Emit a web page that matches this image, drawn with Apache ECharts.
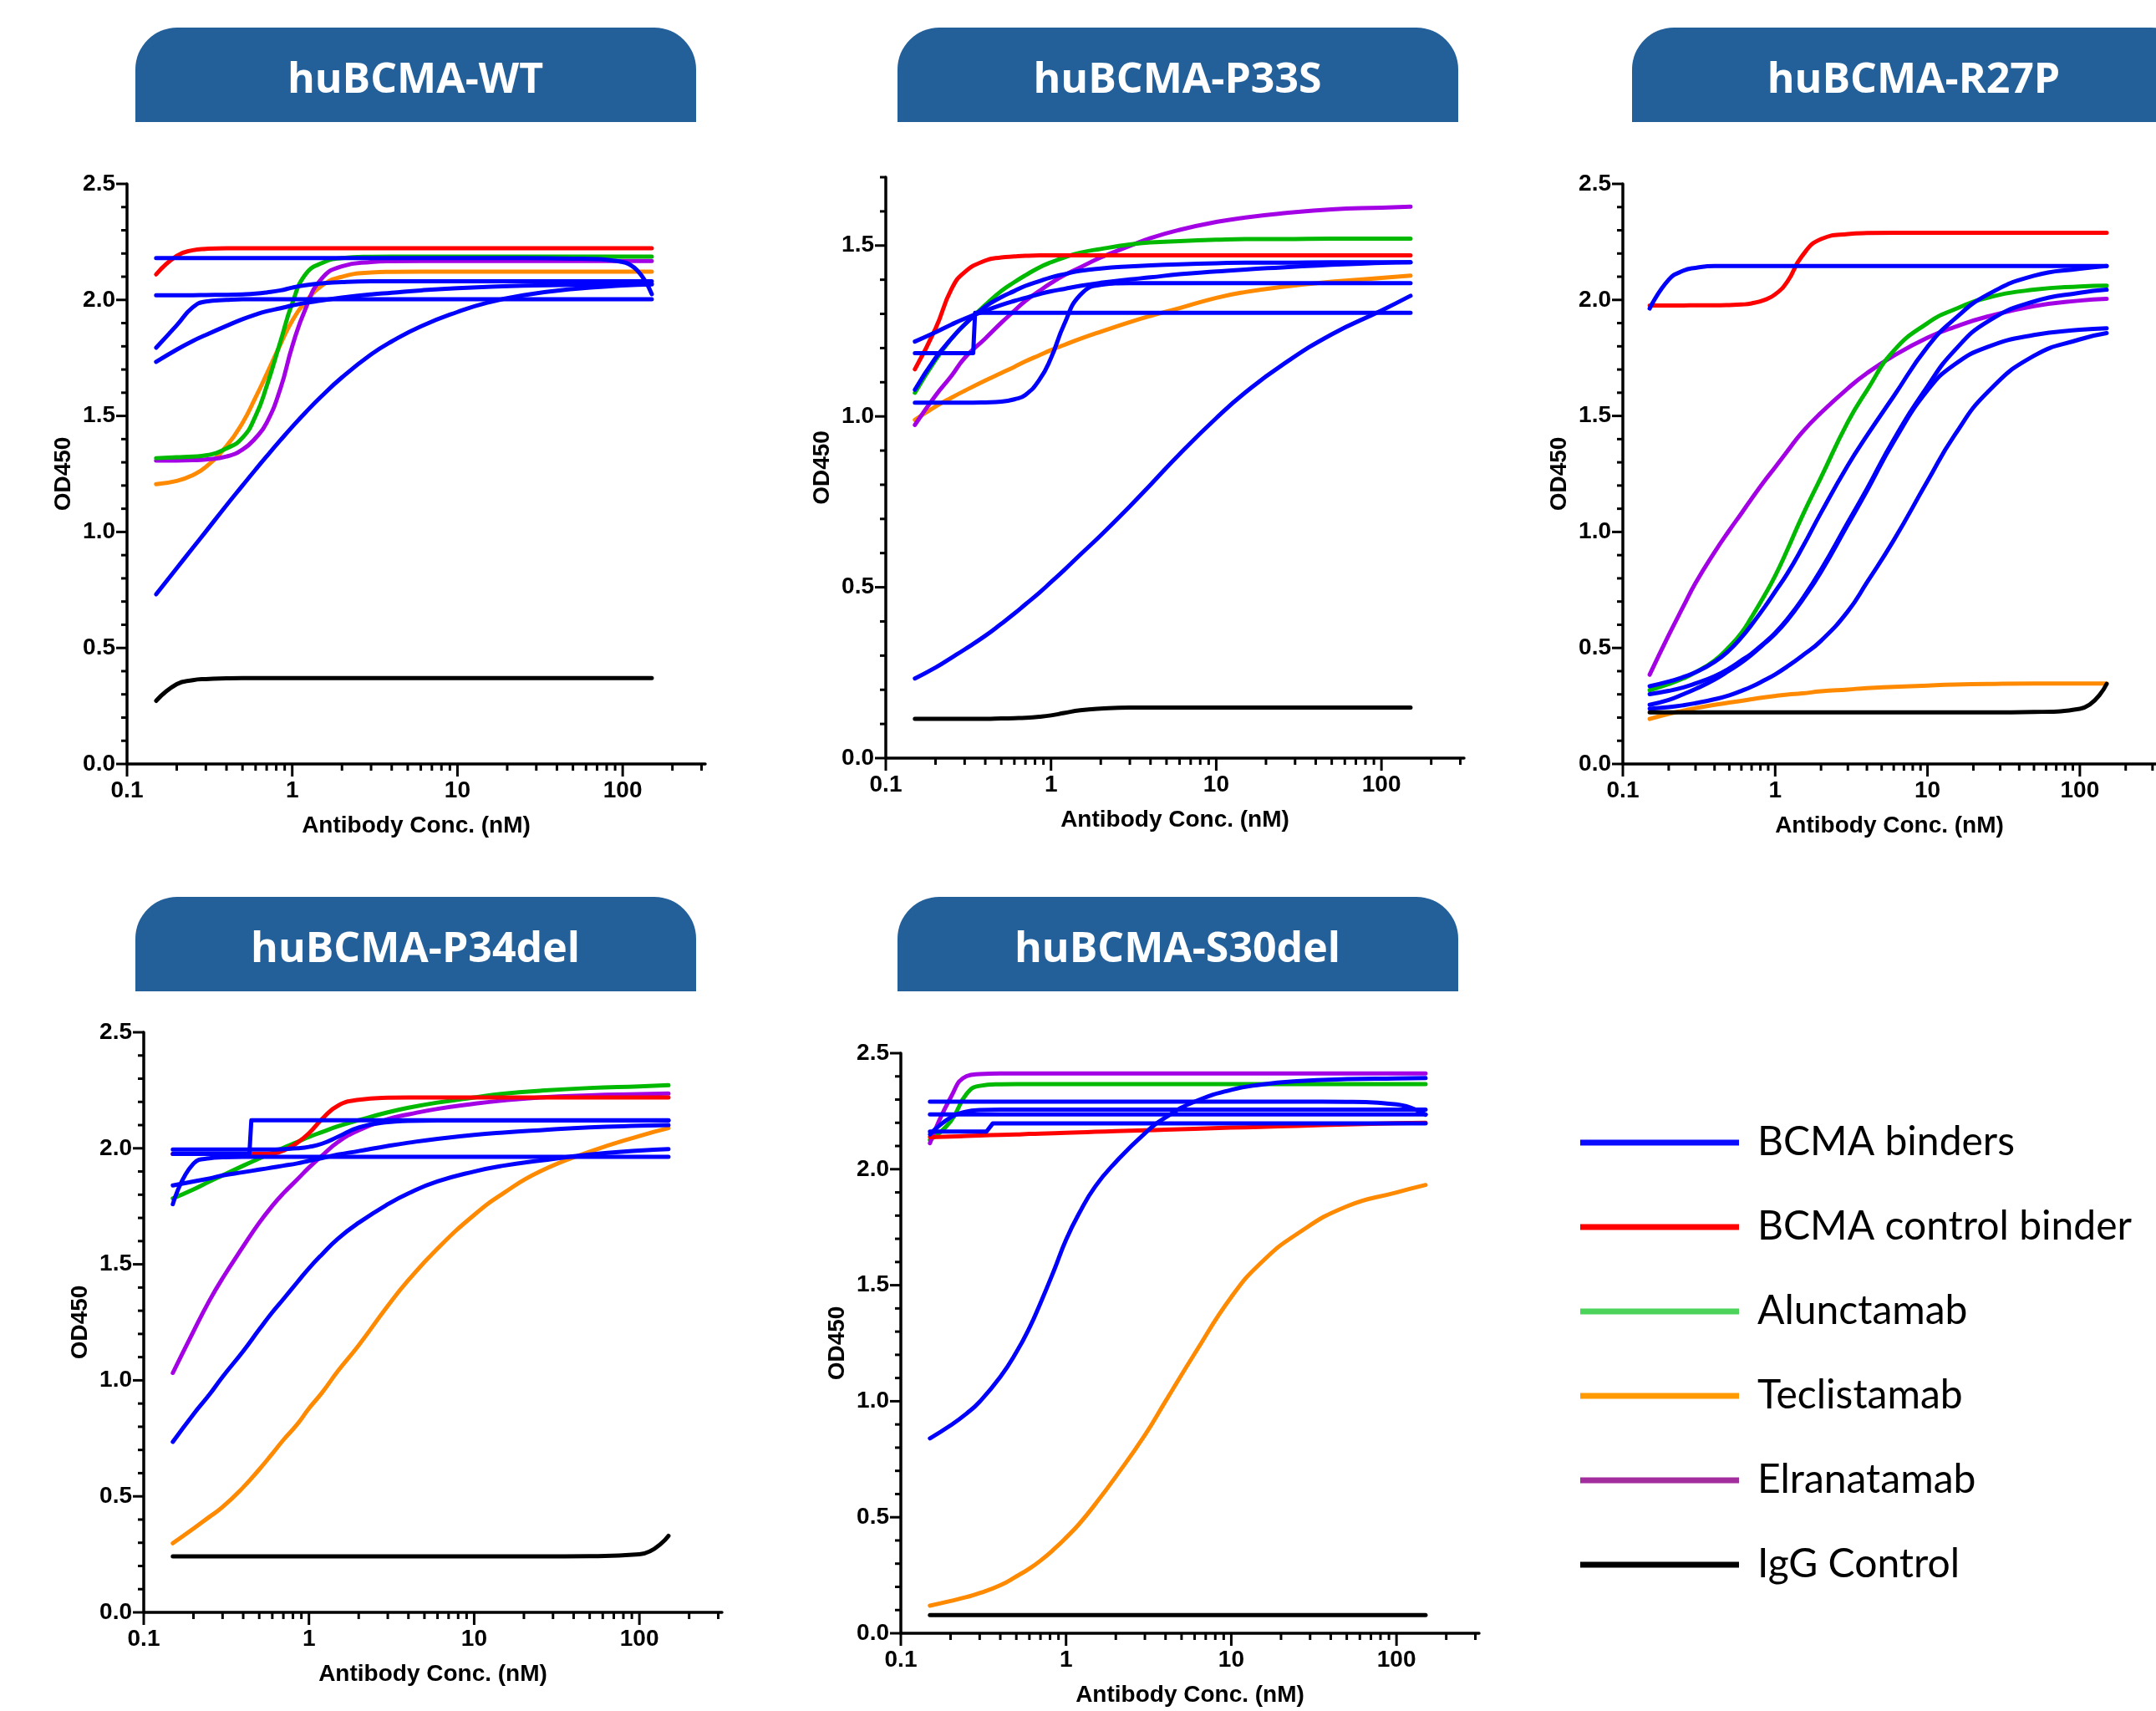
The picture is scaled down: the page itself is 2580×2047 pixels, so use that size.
<!DOCTYPE html>
<html>
<head>
<meta charset="utf-8">
<title>huBCMA variants - OD450 binding curves</title>
<script src="https://cdn.jsdelivr.net/npm/echarts@6/dist/echarts.min.js"></script>
<style>
  html, body { margin: 0; padding: 0; background: #fff; }
  #main { width: 2580px; height: 2047px; }
</style>
</head>
<body>
<div id="main"></div>
<script>
// concentration grid (nM) the fitted curves were read at
var conc = [0.15, 0.2, 0.25, 0.3, 0.4, 0.5, 0.6, 0.7, 0.85, 1, 1.2, 1.5, 2, 3, 4, 6, 10, 15, 25, 50, 100, 150];

// axis ticks
var xTickLabels = ['0.1', '1', '10', '100'];
var xMajorTicks = [0.1, 1, 10, 100];
var xMinorTicks = [0.2, 0.3, 0.4, 0.5, 0.6, 0.7, 0.8, 0.9, 2, 3, 4, 5, 6, 7, 8, 9, 20, 30, 40, 50, 60, 70, 80, 90, 200, 300];
var yTicks25 = [0, 0.1, 0.2, 0.3, 0.4, 0.5, 0.6, 0.7, 0.8, 0.9, 1, 1.1, 1.2, 1.3, 1.4, 1.5, 1.6, 1.7, 1.8, 1.9, 2, 2.1, 2.2, 2.3, 2.4, 2.5];
var yTicks17 = [0, 0.1, 0.2, 0.3, 0.4, 0.5, 0.6, 0.7, 0.8, 0.9, 1, 1.1, 1.2, 1.3, 1.4, 1.5, 1.6, 1.7];

// ---- huBCMA-WT ----
var wtBinderFlat = [2.18, 2.18, 2.18, 2.18, 2.18, 2.18, 2.18, 2.18, 2.18, 2.18, 2.18, 2.18, 2.18, 2.18, 2.18, 2.18, 2.18, 2.18, 2.18, 2.178, 2.163, 2.025];
var wtBinderFast = [1.794, 1.891, 1.968, 1.993, 2.0, 2.003, 2.003, 2.003, 2.003, 2.003, 2.003, 2.003, 2.003, 2.003, 2.003, 2.003, 2.003, 2.003, 2.003, 2.003, 2.003, 2.003];
var wtBinderShift = [2.02, 2.02, 2.02, 2.021, 2.022, 2.024, 2.027, 2.032, 2.041, 2.053, 2.063, 2.071, 2.077, 2.08, 2.08, 2.08, 2.08, 2.08, 2.08, 2.08, 2.08, 2.08];
var wtBinderSlow = [1.733, 1.786, 1.823, 1.849, 1.888, 1.917, 1.937, 1.951, 1.964, 1.976, 1.987, 1.997, 2.01, 2.024, 2.031, 2.041, 2.051, 2.056, 2.061, 2.065, 2.068, 2.07];
var wtBinderLow = [0.731, 0.844, 0.931, 1.002, 1.115, 1.2, 1.269, 1.326, 1.396, 1.453, 1.514, 1.584, 1.666, 1.765, 1.821, 1.886, 1.948, 1.987, 2.02, 2.047, 2.062, 2.067];
var wtControl = [2.11, 2.19, 2.214, 2.22, 2.223, 2.223, 2.223, 2.223, 2.223, 2.223, 2.223, 2.223, 2.223, 2.223, 2.223, 2.223, 2.223, 2.223, 2.223, 2.223, 2.223, 2.223];
var wtAlun = [1.318, 1.322, 1.325, 1.33, 1.36, 1.406, 1.5, 1.628, 1.823, 1.985, 2.109, 2.158, 2.18, 2.186, 2.187, 2.187, 2.187, 2.187, 2.187, 2.187, 2.187, 2.187];
var wtTecl = [1.206, 1.22, 1.245, 1.28, 1.37, 1.47, 1.58, 1.68, 1.81, 1.91, 1.99, 2.06, 2.1, 2.118, 2.121, 2.122, 2.122, 2.122, 2.122, 2.122, 2.122, 2.122];
var wtElra = [1.308, 1.308, 1.309, 1.312, 1.325, 1.355, 1.405, 1.47, 1.62, 1.8, 1.96, 2.09, 2.145, 2.163, 2.167, 2.168, 2.168, 2.168, 2.168, 2.168, 2.168, 2.168];
var wtIgg = [0.272, 0.344, 0.361, 0.366, 0.369, 0.37, 0.37, 0.37, 0.37, 0.37, 0.37, 0.37, 0.37, 0.37, 0.37, 0.37, 0.37, 0.37, 0.37, 0.37, 0.37, 0.37];

// ---- huBCMA-P33S ----
var p33sBinderGentle = [1.219, 1.246, 1.269, 1.286, 1.309, 1.326, 1.338, 1.347, 1.358, 1.366, 1.373, 1.382, 1.391, 1.401, 1.407, 1.416, 1.424, 1.43, 1.436, 1.444, 1.449, 1.451];
var p33sBinderSteep = [1.078, 1.171, 1.228, 1.269, 1.321, 1.349, 1.367, 1.382, 1.396, 1.407, 1.416, 1.426, 1.433, 1.439, 1.442, 1.445, 1.448, 1.45, 1.45, 1.451, 1.451, 1.451];
var p33sBinderLate = [1.04, 1.04, 1.04, 1.04, 1.041, 1.043, 1.05, 1.063, 1.107, 1.171, 1.269, 1.355, 1.385, 1.39, 1.39, 1.39, 1.39, 1.39, 1.39, 1.39, 1.39, 1.39];
var p33sBinderLow = [0.233, 0.265, 0.294, 0.318, 0.358, 0.393, 0.423, 0.45, 0.484, 0.515, 0.55, 0.595, 0.652, 0.737, 0.8, 0.89, 0.995, 1.07, 1.15, 1.24, 1.31, 1.353];
var p33sStepConc = [0.15, 0.338, 0.347, 150];
var p33sStepOd = [1.185, 1.185, 1.303, 1.303];
var p33sControl = [1.138, 1.257, 1.373, 1.422, 1.456, 1.465, 1.468, 1.47, 1.471, 1.471, 1.471, 1.471, 1.471, 1.471, 1.471, 1.471, 1.471, 1.471, 1.471, 1.471, 1.471, 1.471];
var p33sAlun = [1.069, 1.165, 1.228, 1.269, 1.326, 1.367, 1.393, 1.413, 1.436, 1.451, 1.465, 1.479, 1.49, 1.503, 1.509, 1.513, 1.517, 1.519, 1.519, 1.52, 1.52, 1.52];
var p33sTecl = [0.99, 1.029, 1.055, 1.075, 1.105, 1.127, 1.145, 1.161, 1.179, 1.194, 1.209, 1.227, 1.248, 1.276, 1.294, 1.317, 1.347, 1.364, 1.379, 1.394, 1.405, 1.412];
var p33sElra = [0.975, 1.061, 1.119, 1.171, 1.228, 1.274, 1.309, 1.338, 1.367, 1.39, 1.413, 1.436, 1.465, 1.499, 1.522, 1.546, 1.569, 1.582, 1.594, 1.606, 1.611, 1.614];
var p33sIgg = [0.115, 0.115, 0.115, 0.115, 0.115, 0.116, 0.117, 0.118, 0.121, 0.125, 0.132, 0.14, 0.145, 0.148, 0.148, 0.148, 0.148, 0.148, 0.148, 0.148, 0.148, 0.148];

// ---- huBCMA-R27P ----
var r27pBinderFlat = [1.963, 2.087, 2.126, 2.138, 2.146, 2.146, 2.146, 2.146, 2.146, 2.146, 2.146, 2.146, 2.146, 2.146, 2.146, 2.146, 2.146, 2.146, 2.146, 2.146, 2.146, 2.146];
var r27pBinderA = [0.335, 0.355, 0.375, 0.395, 0.44, 0.49, 0.545, 0.6, 0.675, 0.743, 0.82, 0.93, 1.083, 1.287, 1.415, 1.585, 1.798, 1.917, 2.024, 2.104, 2.134, 2.146];
var r27pBinderB = [0.301, 0.315, 0.33, 0.347, 0.378, 0.412, 0.446, 0.476, 0.522, 0.565, 0.624, 0.709, 0.837, 1.041, 1.185, 1.398, 1.628, 1.781, 1.908, 1.993, 2.031, 2.044];
var r27pBinderC = [0.255, 0.276, 0.301, 0.323, 0.364, 0.403, 0.437, 0.471, 0.519, 0.561, 0.619, 0.704, 0.828, 1.032, 1.177, 1.389, 1.61, 1.721, 1.798, 1.849, 1.871, 1.878];
var r27pBinderD = [0.238, 0.245, 0.253, 0.262, 0.279, 0.296, 0.315, 0.333, 0.361, 0.386, 0.42, 0.466, 0.531, 0.658, 0.782, 0.964, 1.219, 1.415, 1.605, 1.759, 1.83, 1.857];
var r27pControl = [1.976, 1.976, 1.976, 1.977, 1.977, 1.978, 1.98, 1.985, 2.0, 2.024, 2.078, 2.189, 2.262, 2.284, 2.288, 2.289, 2.289, 2.289, 2.289, 2.289, 2.289, 2.289];
var r27pAlun = [0.318, 0.344, 0.369, 0.395, 0.446, 0.505, 0.565, 0.633, 0.726, 0.811, 0.922, 1.066, 1.235, 1.474, 1.61, 1.781, 1.9, 1.959, 2.01, 2.044, 2.058, 2.061];
var r27pTecl = [0.194, 0.216, 0.23, 0.241, 0.255, 0.265, 0.272, 0.279, 0.287, 0.293, 0.299, 0.304, 0.313, 0.321, 0.327, 0.332, 0.338, 0.342, 0.345, 0.347, 0.347, 0.347];
var r27pElra = [0.385, 0.555, 0.68, 0.78, 0.913, 1.007, 1.08, 1.143, 1.219, 1.279, 1.347, 1.429, 1.514, 1.619, 1.684, 1.759, 1.837, 1.883, 1.929, 1.973, 1.997, 2.005];
var r27pIgg = [0.222, 0.222, 0.222, 0.222, 0.222, 0.222, 0.222, 0.222, 0.222, 0.222, 0.222, 0.222, 0.222, 0.222, 0.222, 0.222, 0.222, 0.222, 0.222, 0.224, 0.238, 0.345];

// ---- huBCMA-P34del ----
var p34BinderShift = [1.995, 1.995, 1.995, 1.995, 1.995, 1.995, 1.995, 1.997, 2.0, 2.006, 2.02, 2.05, 2.09, 2.113, 2.118, 2.12, 2.12, 2.12, 2.12, 2.12, 2.12, 2.12];
var p34BinderFast = [1.759, 1.934, 1.957, 1.961, 1.963, 1.963, 1.963, 1.963, 1.963, 1.963, 1.963, 1.963, 1.963, 1.963, 1.963, 1.963, 1.963, 1.963, 1.963, 1.963, 1.963, 1.963];
var p34BinderSlow = [1.84, 1.857, 1.87, 1.883, 1.897, 1.908, 1.917, 1.925, 1.935, 1.946, 1.958, 1.973, 1.988, 2.01, 2.024, 2.041, 2.058, 2.068, 2.078, 2.09, 2.097, 2.1];
var p34BinderLow = [0.735, 0.854, 0.939, 1.015, 1.126, 1.219, 1.293, 1.35, 1.423, 1.483, 1.543, 1.611, 1.679, 1.759, 1.806, 1.857, 1.9, 1.925, 1.947, 1.973, 1.99, 1.997];
var p34StepConc = [0.15, 0.436, 0.448, 150];
var p34StepOd = [1.976, 1.976, 2.121, 2.121];
var p34Control = [1.976, 1.976, 1.976, 1.976, 1.976, 1.976, 1.978, 1.99, 2.024, 2.065, 2.126, 2.184, 2.209, 2.218, 2.219, 2.219, 2.219, 2.219, 2.219, 2.219, 2.219, 2.219];
var p34Alun = [1.784, 1.823, 1.857, 1.883, 1.925, 1.956, 1.98, 2.002, 2.027, 2.049, 2.07, 2.095, 2.121, 2.155, 2.175, 2.197, 2.219, 2.235, 2.248, 2.26, 2.267, 2.272];
var p34Tecl = [0.298, 0.361, 0.412, 0.454, 0.539, 0.616, 0.684, 0.743, 0.811, 0.879, 0.947, 1.041, 1.151, 1.321, 1.432, 1.568, 1.713, 1.806, 1.9, 1.985, 2.053, 2.087];
var p34Elra = [1.032, 1.211, 1.344, 1.44, 1.577, 1.679, 1.752, 1.806, 1.866, 1.917, 1.968, 2.027, 2.078, 2.126, 2.146, 2.17, 2.192, 2.206, 2.219, 2.228, 2.233, 2.236];
var p34Igg = [0.241, 0.241, 0.241, 0.241, 0.241, 0.241, 0.241, 0.241, 0.241, 0.241, 0.241, 0.241, 0.241, 0.241, 0.241, 0.241, 0.241, 0.241, 0.241, 0.242, 0.25, 0.33];

// ---- huBCMA-S30del ----
var s30BinderFlat = [2.291, 2.291, 2.291, 2.291, 2.291, 2.291, 2.291, 2.291, 2.291, 2.291, 2.291, 2.291, 2.291, 2.291, 2.291, 2.291, 2.291, 2.291, 2.291, 2.29, 2.279, 2.235];
var s30BinderLevel = [2.236, 2.236, 2.236, 2.236, 2.236, 2.236, 2.236, 2.236, 2.236, 2.236, 2.236, 2.236, 2.236, 2.236, 2.236, 2.236, 2.236, 2.236, 2.236, 2.236, 2.236, 2.236];
var s30BinderFast = [2.15, 2.223, 2.248, 2.255, 2.257, 2.257, 2.257, 2.257, 2.257, 2.257, 2.257, 2.257, 2.257, 2.257, 2.257, 2.257, 2.257, 2.257, 2.257, 2.257, 2.257, 2.257];
var s30BinderLow = [0.84, 0.896, 0.947, 0.998, 1.105, 1.211, 1.316, 1.423, 1.568, 1.696, 1.81, 1.925, 2.031, 2.155, 2.223, 2.291, 2.342, 2.364, 2.379, 2.388, 2.391, 2.393];
var s30StepConc = [0.15, 0.33, 0.36, 150];
var s30StepOd = [2.162, 2.162, 2.197, 2.197];
var s30Control = [2.138, 2.141, 2.143, 2.145, 2.148, 2.15, 2.152, 2.153, 2.155, 2.157, 2.159, 2.161, 2.164, 2.168, 2.17, 2.174, 2.179, 2.182, 2.187, 2.193, 2.198, 2.2];
var s30Alun = [2.126, 2.206, 2.325, 2.359, 2.366, 2.367, 2.367, 2.367, 2.367, 2.367, 2.367, 2.367, 2.367, 2.367, 2.367, 2.367, 2.367, 2.367, 2.367, 2.367, 2.367, 2.367];
var s30Tecl = [0.119, 0.139, 0.156, 0.173, 0.207, 0.245, 0.279, 0.313, 0.364, 0.412, 0.471, 0.556, 0.675, 0.854, 1.0, 1.205, 1.449, 1.594, 1.721, 1.84, 1.9, 1.932];
var s30Elra = [2.112, 2.308, 2.401, 2.41, 2.413, 2.413, 2.413, 2.413, 2.413, 2.413, 2.413, 2.413, 2.413, 2.413, 2.413, 2.413, 2.413, 2.413, 2.413, 2.413, 2.413, 2.413];
var s30Igg = [0.078, 0.078, 0.078, 0.078, 0.078, 0.078, 0.078, 0.078, 0.078, 0.078, 0.078, 0.078, 0.078, 0.078, 0.078, 0.078, 0.078, 0.078, 0.078, 0.078, 0.078, 0.078];

// series names / colours
var names = {
    binder: 'BCMA binders', control: 'BCMA control binder', alun: 'Alunctamab',
    tecl: 'Teclistamab', elra: 'Elranatamab', igg: 'IgG Control'
};
var lineColors = {binder: '#0000ff', control: '#ff0000', alun: '#00b900', tecl: '#ff8a00', elra: '#a300e6', igg: '#000000'};
var legendColors = {binder: '#0a0aff', control: '#ff0000', alun: '#4bd35a', tecl: '#ff9a00', elra: '#a12e9c', igg: '#000000'};
var legendOrder = ['binder', 'control', 'alun', 'tecl', 'elra', 'igg'];

// curves per panel, drawn in this order
var panelCurves = [
    [['tecl', conc, wtTecl], ['elra', conc, wtElra], ['alun', conc, wtAlun], ['control', conc, wtControl],
     ['binder', conc, wtBinderFlat], ['binder', conc, wtBinderFast], ['binder', conc, wtBinderShift],
     ['binder', conc, wtBinderSlow], ['binder', conc, wtBinderLow], ['igg', conc, wtIgg]],
    [['tecl', conc, p33sTecl], ['elra', conc, p33sElra], ['alun', conc, p33sAlun], ['control', conc, p33sControl],
     ['binder', conc, p33sBinderGentle], ['binder', conc, p33sBinderSteep], ['binder', p33sStepConc, p33sStepOd],
     ['binder', conc, p33sBinderLate], ['binder', conc, p33sBinderLow], ['igg', conc, p33sIgg]],
    [['tecl', conc, r27pTecl], ['elra', conc, r27pElra], ['alun', conc, r27pAlun], ['control', conc, r27pControl],
     ['binder', conc, r27pBinderFlat], ['binder', conc, r27pBinderA], ['binder', conc, r27pBinderB],
     ['binder', conc, r27pBinderC], ['binder', conc, r27pBinderD], ['igg', conc, r27pIgg]],
    [['tecl', conc, p34Tecl], ['elra', conc, p34Elra], ['alun', conc, p34Alun], ['control', conc, p34Control],
     ['binder', conc, p34BinderShift], ['binder', conc, p34BinderFast], ['binder', conc, p34BinderSlow],
     ['binder', p34StepConc, p34StepOd], ['binder', conc, p34BinderLow], ['igg', conc, p34Igg]],
    [['tecl', conc, s30Tecl], ['alun', conc, s30Alun], ['elra', conc, s30Elra], ['control', conc, s30Control],
     ['binder', conc, s30BinderFlat], ['binder', conc, s30BinderLevel], ['binder', conc, s30BinderFast],
     ['binder', s30StepConc, s30StepOd], ['binder', conc, s30BinderLow], ['igg', conc, s30Igg]]
];

var titles = ['huBCMA-WT', 'huBCMA-P33S', 'huBCMA-R27P', 'huBCMA-P34del', 'huBCMA-S30del'];

// page layout (pixels)
var layout = [
    {grid: {left: 152, top: 220, width: 692, height: 694}, yMax: 2.5, yTicks: yTicks25, box: [162, 33], textX: 497},
    {grid: {left: 1060, top: 212, width: 692, height: 695}, yMax: 1.7, yTicks: yTicks17, box: [1074, 33], textX: 1409},
    {grid: {left: 1942, top: 220, width: 692, height: 694}, yMax: 2.5, yTicks: yTicks25, box: [1953, 33], textX: 2290},
    {grid: {left: 172, top: 1235, width: 692, height: 694}, yMax: 2.5, yTicks: yTicks25, box: [162, 1073], textX: 497},
    {grid: {left: 1078, top: 1260, width: 692, height: 694}, yMax: 2.5, yTicks: yTicks25, box: [1074, 1073], textX: 1409}
];
var boxW = 671, boxH = 113;
var titleBlue = '#23609a';

var axisFont = {fontFamily: 'Liberation Sans, Arial, sans-serif', fontWeight: 'bold', fontSize: 28, color: '#000'};

function tickItem(params, api) {
    var p = api.coord([api.value(0), api.value(1)]);
    var len = api.value(2);
    var shape = api.value(3) === 1
        ? {x1: p[0] - len, y1: p[1], x2: p[0], y2: p[1]}
        : {x1: p[0], y1: p[1], x2: p[0], y2: p[1] + len};
    return {type: 'line', shape: shape, style: {stroke: '#000', lineWidth: 3}};
}

var grids = [], xAxes = [], yAxes = [], series = [], graphics = [];

layout.forEach(function (L, g) {
    grids.push(Object.assign({containLabel: false}, L.grid));

    xAxes.push({
        gridIndex: g, type: 'value', min: -1, max: 2.5, interval: 1,
        axisLine: {onZero: false, lineStyle: {color: '#000', width: 3.5}},
        axisTick: {show: false}, splitLine: {show: false},
        axisLabel: Object.assign({
            margin: 18, showMaxLabel: false,
            formatter: function (v) { return Number.isInteger(v) ? xTickLabels[v + 1] : ''; }
        }, axisFont),
        name: 'Antibody Conc. (nM)', nameLocation: 'middle', nameGap: 60,
        nameTextStyle: axisFont
    });

    yAxes.push({
        gridIndex: g, type: 'value', min: 0, max: L.yMax, interval: 0.5,
        axisLine: {onZero: false, lineStyle: {color: '#000', width: 3.5}},
        axisTick: {show: false}, splitLine: {show: false},
        axisLabel: Object.assign({
            margin: 14,
            formatter: function (v) { return Math.round(v * 10) % 5 === 0 ? v.toFixed(1) : ''; }
        }, axisFont),
        name: 'OD450', nameLocation: 'middle', nameGap: 62,
        nameTextStyle: axisFont
    });

    // axis ticks (log minor ticks on x, 0.1 steps on y)
    var tickData = [];
    xMajorTicks.forEach(function (v) { tickData.push([Math.log10(v), 0, 15, 0]); });
    xMinorTicks.forEach(function (v) { tickData.push([Math.log10(v), 0, 8, 0]); });
    L.yTicks.forEach(function (v) {
        tickData.push([-1, v, Math.round(v * 10) % 5 === 0 ? 13 : 7, 1]);
    });
    series.push({
        type: 'custom', xAxisIndex: g, yAxisIndex: g, silent: true, clip: false, z: 5,
        dimensions: ['x', 'y', 'len', 'dir'], encode: {x: 0, y: 1},
        renderItem: tickItem, data: tickData
    });

    panelCurves[g].forEach(function (c) {
        var key = c[0], xs = c[1], ys = c[2];
        series.push({
            type: 'line', name: names[key], xAxisIndex: g, yAxisIndex: g,
            data: xs.map(function (x, i) { return [Math.log10(x), ys[i]]; }),
            showSymbol: false, symbol: 'none',
            smooth: xs === conc ? 0.5 : false,
            lineStyle: {color: lineColors[key], width: 5, cap: 'round', join: 'round'},
            itemStyle: {color: lineColors[key]},
            emphasis: {disabled: true}, silent: true
        });
    });

    graphics.push({
        type: 'rect', left: L.box[0], top: L.box[1], z: 1,
        shape: {width: boxW, height: boxH, r: [50, 50, 0, 0]},
        style: {fill: titleBlue}
    });
    graphics.push({
        type: 'text', x: L.textX, y: L.box[1] + 64, z: 2,
        style: {
            text: titles[g], fill: '#fff', fontFamily: 'Open Sans', fontWeight: 'bold', fontSize: 50,
            align: 'center', verticalAlign: 'middle', textAlign: 'center', textVerticalAlign: 'middle'
        }
    });
});

var chart = echarts.init(document.getElementById('main'));
chart.setOption({
    backgroundColor: '#fff',
    animation: false,
    grid: grids,
    xAxis: xAxes,
    yAxis: yAxes,
    series: series,
    graphic: {elements: graphics},
    legend: {
        orient: 'vertical', left: 1891, top: 1339, padding: 0,
        itemWidth: 190, itemHeight: 7, itemGap: 45, icon: 'rect', selectedMode: false,
        textStyle: {fontFamily: 'Lato', fontSize: 48, color: '#000', lineHeight: 56, padding: [0, 0, 0, 17]},
        data: legendOrder.map(function (k) {
            return {name: names[k], itemStyle: {color: legendColors[k], borderWidth: 0}};
        })
    }
});
</script>
</body>
</html>
